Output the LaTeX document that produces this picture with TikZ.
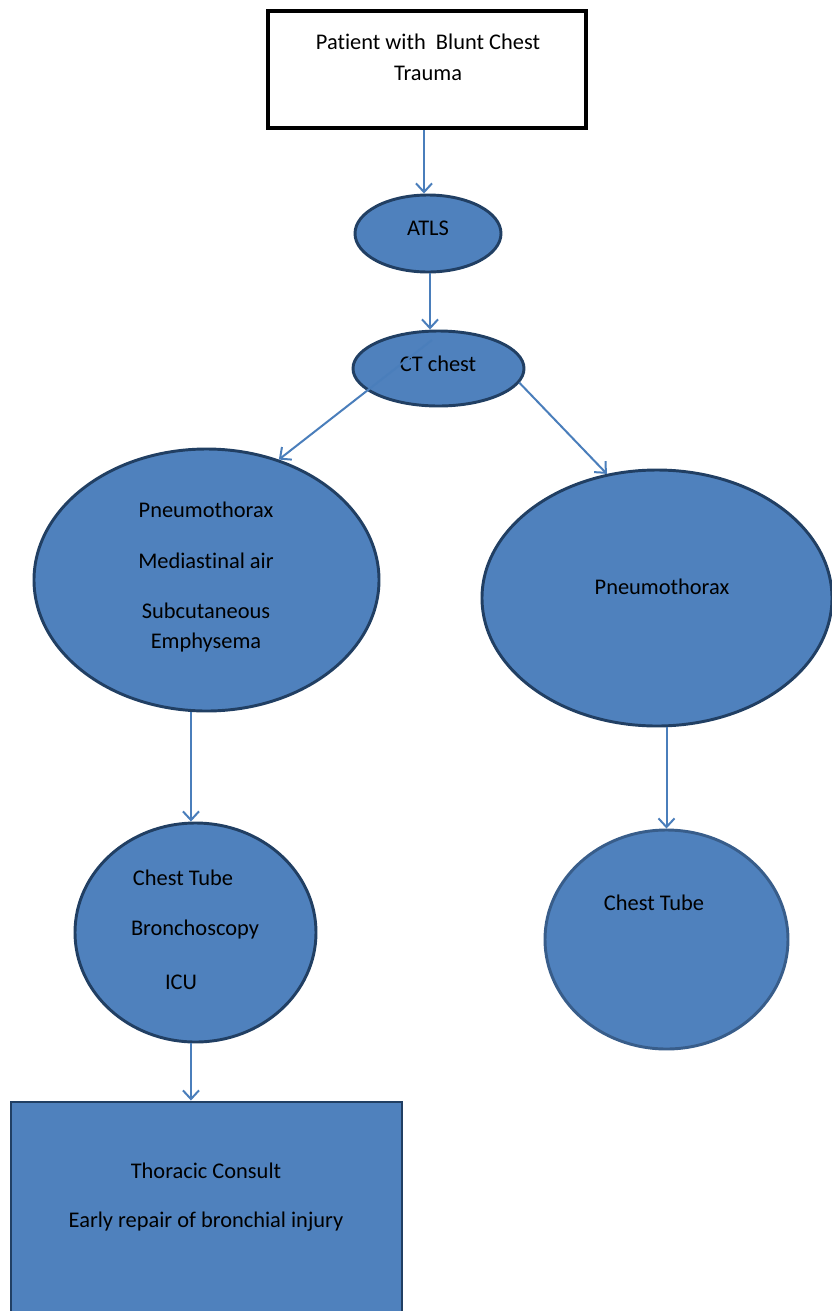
\documentclass[tikz,border=0pt]{standalone}
\usepackage{fontspec}
\setmainfont{Carlito}[Ligatures=NoCommon]
\usetikzlibrary{arrows.meta,shapes.geometric}
\definecolor{fillblue}{HTML}{4F81BD}
\definecolor{edgeblue}{HTML}{213F63}
\definecolor{edgelight}{HTML}{385D8A}
\definecolor{arrowblue}{HTML}{4A7EBB}
\tikzset{
  oval/.style={ellipse, draw=edgeblue, fill=fillblue, line width=2.2pt, inner sep=0pt},
  txt/.style={font=\fontsize{16.8}{19}\selectfont, text=black, inner sep=0pt},
  arr/.style={draw=arrowblue, line width=1.5pt, -{Straight Barb[length=6.5pt,width=12pt,line width=1.5pt]}}
}
\begin{document}
\begin{tikzpicture}[x=0.75pt,y=-0.75pt]
\clip (0,0) rectangle (832,1311);
\fill[white] (0,0) rectangle (832,1311);
% shapes
\node[draw=black, fill=white, line width=3pt, minimum width=238.5pt, minimum height=87.75pt, inner sep=0pt] (top) at (427,69.5) {};
\node[oval, minimum width=109.5pt, minimum height=57.75pt] (atls) at (428,233.5) {};
\node[oval, minimum width=128.25pt, minimum height=56.25pt] (ct) at (438.5,368.5) {};
\node[oval, minimum width=258.75pt, minimum height=196.5pt] (lp) at (206.5,580) {};
\node[oval, minimum width=262.5pt, minimum height=192pt] (rp) at (657,598) {};
\node[oval, minimum width=180.75pt, minimum height=164.25pt] (ls) at (195.5,932.5) {};
\node[oval, draw=edgelight, minimum width=182.25pt, minimum height=164.25pt] (rs) at (666.5,939.5) {};
\node[draw=edgeblue, fill=fillblue, line width=2.2pt, minimum width=293.25pt, minimum height=164.25pt, inner sep=0pt] (bot) at (206.5,1211.5) {};
% texts
\node[txt] (t1) at (428,42) {Patient with\ \ Blunt Chest};
\node[txt] (t2) at (428,73) {Trauma};
\node[txt] (t3) at (428,228) {ATLS};
\node[txt] (t4) at (438,364) {CT chest};
\node[txt] (t5) at (206,510) {Pneumothorax};
\node[txt] (t6) at (206,561) {Mediastinal air};
\node[txt] (t7) at (206,611) {Subcutaneous};
\node[txt] (t8) at (206,643) {Emphysema};
\node[txt] (t9) at (662,587) {Pneumothorax};
\node[txt] (t10) at (183,878) {Chest Tube};
\node[txt] (t11) at (195,930) {Bronchoscopy};
\node[txt] (t12) at (181,982) {ICU};
\node[txt] (t13) at (654,903) {Chest Tube};
\node[txt] (t14) at (206,1171) {Thoracic Consult};
\node[txt] (t15) at (206,1222) {Early repair of bronchial injury};
% connector end points
\coordinate (ctin) at (432,340);
\coordinate (atlsin) at ([xshift=-3pt]atls.north);
\coordinate (atlsout) at ([xshift=1.5pt]atls.south);
\coordinate (lsin) at ([xshift=-3.4pt]ls.north);
\coordinate (lsout) at ([xshift=-3.4pt]ls.south);
% connectors
\draw[arr] (top.south -| atlsin) -- (atlsin);
\draw[arr] (atlsout) -- (atlsout |- ct.north);
\draw[arr] (ctin) -- (lp.59);
\draw[arr] (ct.-10) -- (rp.112);
\draw[arr] (lsin |- lp.south) -- (lsin);
\draw[arr] (rs.north |- rp.south) -- (rs.north);
\draw[arr] (lsout) -- (lsout |- bot.north);
\end{tikzpicture}
\end{document}
